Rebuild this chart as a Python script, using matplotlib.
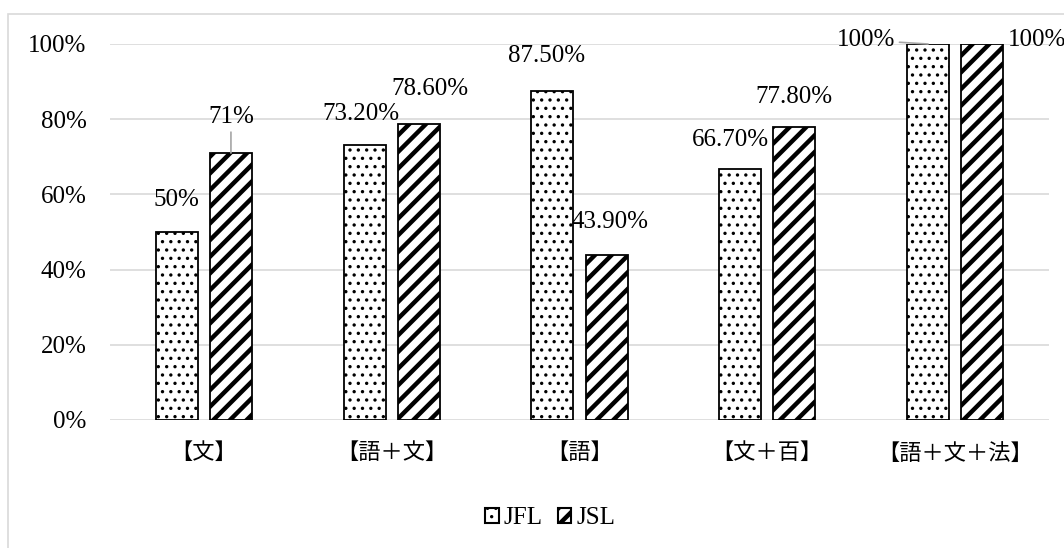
import matplotlib
matplotlib.use('Agg')
import matplotlib.pyplot as plt
import numpy as np
from matplotlib.patches import Rectangle

plt.rcParams['font.family'] = ['Liberation Serif', 'Noto Sans CJK JP']

categories = ['【文】', '【語＋文】', '【語】', '【文＋百】', '【語＋文＋法】']
jfl = [0.50, 0.732, 0.875, 0.667, 1.00]
jsl = [0.71, 0.786, 0.439, 0.778, 1.00]
series_names = ['JFL', 'JSL']

# label placement (category offset, y position) for each bar's value label
jfl_label_pos = [(0.0, 0.585), (-0.02, 0.814), (-0.03, 0.968), (-0.05, 0.745), (-0.33, 1.01)]
jsl_label_pos = [(0.0, 0.806), (0.06, 0.880), (0.02, 0.527), (0.0, 0.859), (0.29, 1.01)]
jfl_leader = [False, False, False, False, True]
jsl_leader = [True, False, False, False, False]


def pct(v):
    p = v * 100
    if abs(p - round(p)) < 1e-9:
        return f'{p:.0f}%'
    return f'{p:.2f}%'


fig = plt.figure(figsize=(10.64, 5.48), dpi=100)
ax = fig.add_axes([110 / 1064, 128 / 548, 939 / 1064, 376 / 548])

# outer chart frame
fig.patches.append(Rectangle((8 / 1064, -0.1), 1.2, 1.1 - 14 / 548,
                             transform=fig.transFigure, fill=False,
                             edgecolor='#d9d9d9', linewidth=1.2))

x = np.arange(len(categories))
off = 0.144
w = 0.224
dot_lw, stripe_lw = 1.2, 3.2

with plt.rc_context({'hatch.linewidth': dot_lw}):
    b1 = ax.bar(x - off, jfl, w, color='white', edgecolor='black',
                hatch='..', linewidth=1.3, label=series_names[0], zorder=3)
with plt.rc_context({'hatch.linewidth': stripe_lw}):
    b2 = ax.bar(x + off, jsl, w, color='white', edgecolor='black',
                hatch='//', linewidth=1.3, label=series_names[1], zorder=3)

for bars, vals, pos, lead, sgn in [(b1, jfl, jfl_label_pos, jfl_leader, -1),
                                   (b2, jsl, jsl_label_pos, jsl_leader, 1)]:
    for i, (v, (dx, ly), ld) in enumerate(zip(vals, pos, lead)):
        bx = x[i] + sgn * off
        arrow = dict(arrowstyle='-', color='#a6a6a6', lw=1.2,
                     shrinkA=1, shrinkB=0) if ld else None
        ax.annotate(pct(v), xy=(bx, v), xytext=(bx + dx, ly),
                    ha='center', va='center', fontsize=18,
                    arrowprops=arrow, zorder=4, annotation_clip=False)

ax.set_ylim(0, 1)
ax.set_xlim(-0.5, len(categories) - 0.5)
yt = np.arange(0, 1.01, 0.2)
ax.set_yticks(yt)
ax.set_yticklabels([f'{int(round(t * 100))}%' for t in yt])
ax.set_xticks(x)
ax.set_xticklabels(categories, fontsize=16)
ax.tick_params(axis='y', length=0, pad=17, labelsize=18)
ax.tick_params(axis='x', length=0, pad=17)
ax.grid(axis='y', color='#d9d9d9', linewidth=1.2, zorder=0)
ax.set_axisbelow(True)
for s in ax.spines.values():
    s.set_visible(False)

leg = ax.legend(loc='center', bbox_to_anchor=(550 / 1064, 30 / 548),
                bbox_transform=fig.transFigure, ncol=2, frameon=False,
                fontsize=18, handlelength=0.55, handleheight=0.55,
                handletextpad=0.2, columnspacing=0.6)
for h, lw in zip(leg.legend_handles, [dot_lw, stripe_lw]):
    h.set_linewidth(1.5)
    if hasattr(h, 'set_hatch_linewidth'):
        h.set_hatch_linewidth(lw)

fig.savefig('out.png', dpi=100, facecolor='white')
